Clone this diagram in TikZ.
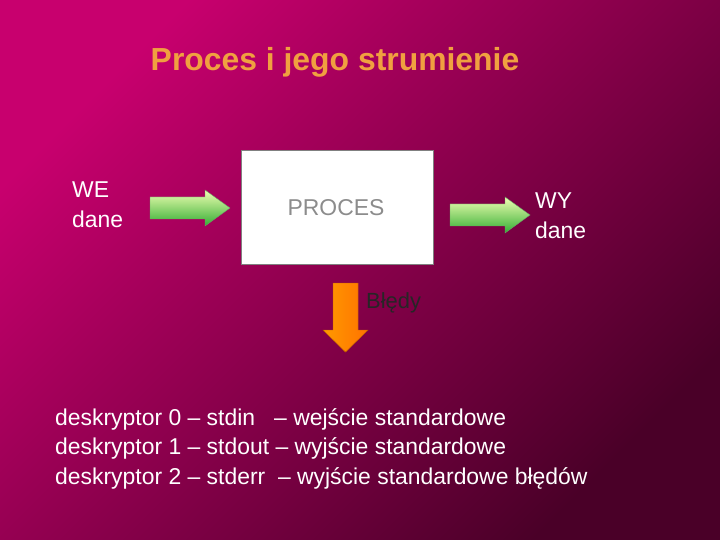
\documentclass[tikz,border=0pt]{standalone}
\usepackage{fontspec}
\setmainfont{Liberation Sans}
\begin{document}
\begin{tikzpicture}[x=1bp,y=-1bp,
  txt/.style={text=white,font=\fontsize{23}{30}\selectfont,align=left,inner sep=0pt},
  garrow/.style={draw=green!40!black!60,line width=0.4pt,top color=green!20!yellow!30,bottom color=green!60!black!80,shading angle=0}]
\definecolor{bgA}{HTML}{C8006E}
\definecolor{bgB}{HTML}{4A0028}
\definecolor{ttl}{HTML}{F0A040}
\shade[top color=bgA,bottom color=bgB,shading angle=45] (0,0) rectangle (720,540);
\useasboundingbox (0,0) rectangle (720,540);
\node[text=ttl,font=\bfseries\fontsize{32}{36}\selectfont] (title) at (335,62) {Proces i jego strumienie};
\node[txt,anchor=north west] (we) at (72,182) {WE\\dane};
\node[draw=gray,fill=white,minimum width=192bp,minimum height=114bp,inner sep=0pt] (box) at (337,207) {};
\node[text=gray!90,font=\fontsize{23}{28}\selectfont] (proc) at (336,208) {PROCES};
\node[txt,anchor=north west] (wy) at (535,193) {WY\\dane};
\shade[garrow,draw] (150,197) -- ++(55,0) -- ++(0,-7) -- ++(25,18) -- ++(-25,18) -- ++(0,-7) -- ++(-55,0) -- cycle;
\shade[garrow,draw] (450,204) -- ++(55,0) -- ++(0,-7) -- ++(25,18) -- ++(-25,18) -- ++(0,-7) -- ++(-55,0) -- cycle;
\path[draw=orange!70!black,fill=orange!90!yellow,left color=orange!80!yellow,right color=orange!90!red] (333,283) -- (358,283) -- (358,330) -- (368,330) -- (345.5,352) -- (323,330) -- (333,330) -- cycle;
\node[text=black!85,font=\fontsize{22}{26}\selectfont,anchor=west,inner sep=0pt] (bl) at (366,303) {Błędy};
\node[txt,anchor=north west] (d) at (55,408) {deskryptor 0 – stdin \ \ – wejście standardowe\\deskryptor 1 – stdout – wyjście standardowe\\deskryptor 2 – stderr \ – wyjście standardowe błędów};
\end{tikzpicture}
\end{document}
